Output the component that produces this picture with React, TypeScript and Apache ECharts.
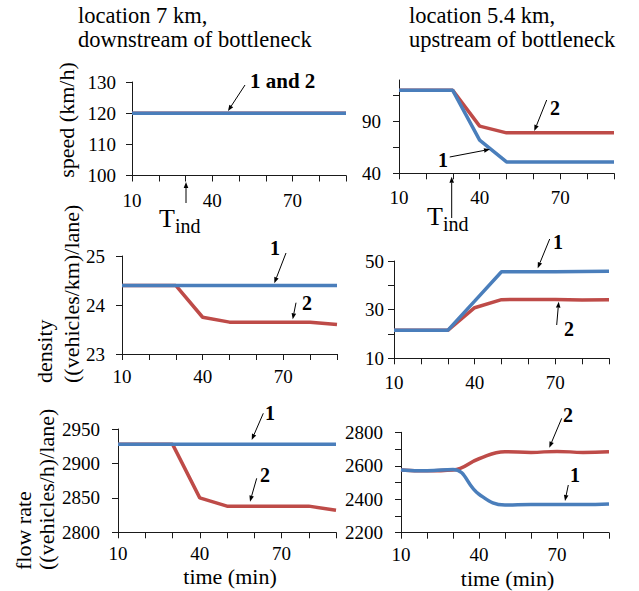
import React, { useEffect, useRef } from 'react';
import * as echarts from 'echarts';

// ---- data ----
const times = [10, 20, 30, 40, 50, 60, 70, 80, 90];
const xLabelValues = [10, 40, 70];

const speedDown1 = [120, 120, 120, 120, 120, 120, 120, 120, 120];
const speedDown2 = [120, 120, 120, 120, 120, 120, 120, 120, 120];
const speedUp1 = [120, 120, 120, 72, 51, 51, 51, 51, 51];
const speedUp2 = [120, 120, 120, 85.5, 79, 79, 79, 79, 79];

const densDown1 = [24.4, 24.4, 24.4, 24.4, 24.4, 24.4, 24.4, 24.4, 24.4];
const densDown2 = [24.4, 24.4, 24.4, 23.75, 23.65, 23.65, 23.65, 23.65, 23.6];
const densUp1 = [21.5, 21.5, 21.5, 33.5, 45.6, 45.6, 45.6, 45.7, 45.8];
const densUp2 = [21.5, 21.5, 21.5, 30.8, 34.1, 34.2, 34.2, 34.0, 34.1];

const flowDown1 = [2928, 2928, 2928, 2928, 2928, 2928, 2928, 2928, 2928];
const flowDown2 = [2928, 2928, 2928, 2850, 2838, 2838, 2838, 2838, 2832];
const flowUp1 = [2575, 2570, 2578, 2430, 2365, 2368, 2368, 2368, 2372];
const flowUp2 = [2575, 2570, 2575, 2642, 2684, 2680, 2686, 2680, 2684];

const speedUpTicks = [40, 65, 90, 115];
const speedUpLabels = [40, 90];
const densUpLabels = [10, 30, 50];
const flowUpLabels = [2200, 2400, 2600, 2800];

const BLUE = '#4A7EBB';
const RED = '#BE4B48';
const FONT = 'Liberation Serif';

const pairs = (ys: number[]) => times.map((t, i) => [t, ys[i]]);

type Panel = {
  grid: { left: number; top: number; width: number; height: number };
  y: any;
  yMargin: number;
  xMargin: number;
  s1: number[];
  s2: number[];
  smooth?: number | boolean;
};

const panels: Panel[] = [
  { grid: { left: 132, top: 82, width: 214, height: 93.5 }, y: { min: 100, max: 130, interval: 10 }, yMargin: 16, xMargin: 15, s1: speedDown1, s2: speedDown2 },
  { grid: { left: 399, top: 80, width: 215, height: 93.3 }, y: { min: 40, max: 130, ticks: speedUpTicks, labels: speedUpLabels }, yMargin: 18, xMargin: 14.5, s1: speedUp1, s2: speedUp2 },
  { grid: { left: 122, top: 256, width: 215, height: 98 }, y: { min: 23, max: 25, interval: 1 }, yMargin: 17, xMargin: 13, s1: densDown1, s2: densDown2 },
  { grid: { left: 394, top: 261, width: 215, height: 97.3 }, y: { min: 10, max: 50, interval: 10, labels: densUpLabels }, yMargin: 10, xMargin: 15, s1: densUp1, s2: densUp2 },
  { grid: { left: 118, top: 429, width: 218, height: 103.3 }, y: { min: 2800, max: 2950, interval: 50 }, yMargin: 18, xMargin: 12, s1: flowDown1, s2: flowDown2 },
  { grid: { left: 401, top: 432.3, width: 208, height: 100.4 }, y: { min: 2200, max: 2800, interval: 100, labels: flowUpLabels }, yMargin: 18, xMargin: 12, s1: flowUp1, s2: flowUp2, smooth: 0.45 },
];

function arrow(x1: number, y1: number, x2: number, y2: number) {
  const dx = x2 - x1, dy = y2 - y1;
  const len = Math.hypot(dx, dy);
  const ux = dx / len, uy = dy / len;
  const hl = 6, hw = 2.3;
  const bx = x2 - ux * hl, by = y2 - uy * hl;
  return [
    { type: 'line', z: 10, shape: { x1, y1, x2: bx, y2: by }, style: { stroke: '#000', lineWidth: 1 } },
    { type: 'polygon', z: 10, shape: { points: [[x2, y2], [bx - uy * hw, by + ux * hw], [bx + uy * hw, by - ux * hw]] }, style: { fill: '#000' } },
  ];
}

function txt(text: string, x: number, y: number, size: number, opts: any = {}) {
  return {
    type: 'text', z: 10, x, y, rotation: opts.rotation || 0,
    style: {
      text, fill: '#000', fontFamily: FONT, fontSize: size, fontWeight: opts.bold ? 'bold' : 'normal',
      align: opts.align || 'left', verticalAlign: 'middle',
    },
  };
}

export default function App() {
  const ref = useRef<HTMLDivElement>(null);
  useEffect(() => {
    if (!ref.current) return;
    const chart = echarts.init(ref.current, undefined, { renderer: 'svg' });
    const axisLineStyle = { color: '#1a1a1a', width: 1 };
    const labelBase = { color: '#000', fontFamily: FONT, fontSize: 19 };

    const grid = panels.map((p) => ({ ...p.grid, containLabel: false }));
    const xAxis = panels.map((p, i) => ({
      type: 'value', gridIndex: i, min: 10, max: 90, interval: 10,
      axisLine: { show: true, onZero: false, lineStyle: axisLineStyle },
      axisTick: { show: true, inside: false, length: 6, lineStyle: axisLineStyle },
      splitLine: { show: false },
      axisLabel: {
        ...labelBase, margin: p.xMargin,
        formatter: (v: number) => (xLabelValues.includes(v) ? String(v) : ''),
      },
    }));
    const yAxis = panels.map((p, i) => {
      const y = p.y;
      const a: any = {
        type: 'value', gridIndex: i, min: y.min, max: y.max,
        axisLine: { show: true, onZero: false, lineStyle: axisLineStyle },
        axisTick: { show: true, inside: false, length: 6, lineStyle: axisLineStyle },
        splitLine: { show: false },
        axisLabel: { ...labelBase, margin: p.yMargin, formatter: (v: number) => String(v) },
      };
      if (y.interval) a.interval = y.interval;
      if (y.ticks) {
        a.axisTick.customValues = y.ticks;
        a.axisLabel.customValues = y.labels;
      } else if (y.labels) {
        const labs = y.labels;
        a.axisLabel.formatter = (v: number) => (labs.includes(v) ? String(v) : '');
      }
      return a;
    });
    const series: any[] = [];
    panels.forEach((p, i) => {
      series.push({
        type: 'line', xAxisIndex: i, yAxisIndex: i, data: pairs(p.s2), symbol: 'none',
        smooth: p.smooth || false, lineStyle: { color: RED, width: 3.5 }, z: 2,
      });
      series.push({
        type: 'line', xAxisIndex: i, yAxisIndex: i, data: pairs(p.s1), symbol: 'none',
        smooth: p.smooth || false, lineStyle: { color: BLUE, width: 3.5 }, z: 3,
      });
    });

    const graphic: any[] = [
      txt('location 7 km,', 78, 15.5, 22.5),
      txt('downstream of bottleneck', 78, 39.5, 22.5),
      txt('location 5.4 km,', 409, 15.5, 22.5),
      txt('upstream of bottleneck', 409, 39.5, 22.5),
      txt('speed (km/h)', 66, 120, 22, { rotation: Math.PI / 2, align: 'center' }),
      txt('density', 44, 383, 22, { rotation: Math.PI / 2 }),
      txt('((vehicles/km)/lane)', 71, 383, 22, { rotation: Math.PI / 2 }),
      txt('flow rate', 23, 570, 22, { rotation: Math.PI / 2 }),
      txt('((vehicles/h)/lane)', 46, 570, 22, { rotation: Math.PI / 2 }),
      txt('time (min)', 230, 576.5, 22, { align: 'center' }),
      txt('time (min)', 507.5, 578, 22, { align: 'center' }),
      // T_ind labels
      txt('T', 159, 218, 26),
      txt('ind', 175, 226, 20),
      txt('T', 427, 216, 26),
      txt('ind', 443, 223.5, 20),
      // series labels
      txt('1 and 2', 250, 81, 21, { bold: true }),
      txt('2', 550, 108, 20, { bold: true }),
      txt('1', 438, 160, 20, { bold: true }),
      txt('1', 270, 248, 20, { bold: true }),
      txt('2', 302, 303, 20, { bold: true }),
      txt('1', 553, 242, 20, { bold: true }),
      txt('2', 564, 329, 20, { bold: true }),
      txt('1', 265, 413, 20, { bold: true }),
      txt('2', 260, 475, 20, { bold: true }),
      txt('2', 563, 415, 20, { bold: true }),
      txt('1', 570, 475, 20, { bold: true }),
      ...arrow(245, 85, 228, 111),
      ...arrow(186, 203, 186, 182),
      ...arrow(546.7, 100, 534.3, 131),
      ...arrow(449.7, 157, 490, 149.3),
      ...arrow(451.7, 218, 451.7, 176.7),
      ...arrow(286, 253, 274.3, 283.3),
      ...arrow(296, 302.7, 292.7, 319.3),
      ...arrow(549.7, 239, 537.7, 268.3),
      ...arrow(556.7, 325, 558.7, 301.7),
      ...arrow(263.3, 413.3, 251.7, 440),
      ...arrow(256.7, 478.3, 250, 501.7),
      ...arrow(561.7, 418.3, 549.3, 447.7),
      ...arrow(568.3, 485, 565, 501),
    ];

    chart.setOption({
      animation: false,
      backgroundColor: '#fff',
      grid, xAxis, yAxis, series, graphic,
    });
    return () => chart.dispose();
  }, []);
  return <div ref={ref} style={{ position: 'absolute', left: 0, top: 0, width: 639, height: 591 }} />;
}
